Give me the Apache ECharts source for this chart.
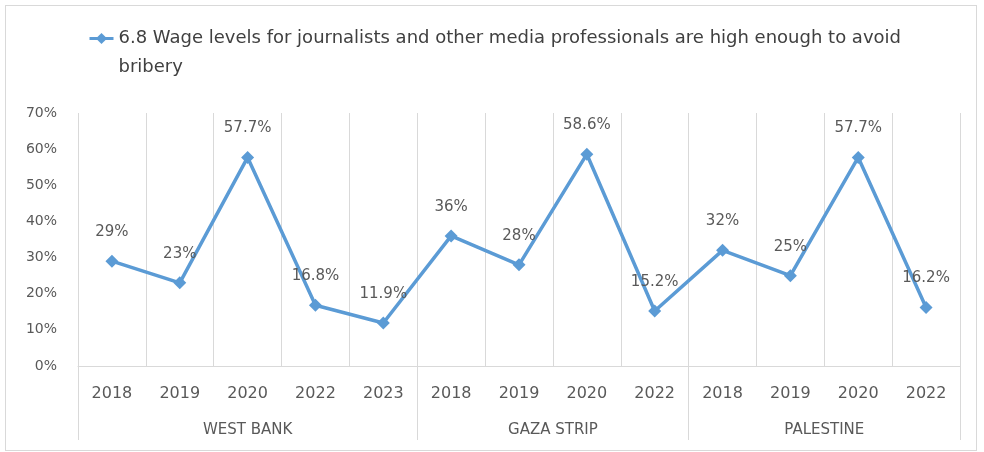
<!DOCTYPE html>
<html>
<head>
<meta charset="utf-8">
<script src="https://cdn.jsdelivr.net/npm/echarts@6/dist/echarts.min.js"></script>
<style>
  html, body { margin: 0; padding: 0; background: #fff; }
  #chart { position: absolute; left: 0; top: 0; width: 984px; height: 452px; }
  #frame { position: absolute; left: 5px; top: 5px; width: 970px; height: 444px; border: 1px solid #d9d9d9; pointer-events: none; }
</style>
</head>
<body>
<div id="chart"></div>
<div id="frame"></div>
<script>
const seriesName = '6.8 Wage levels for journalists and other media professionals are high enough to avoid bribery';
const groups = ['WEST BANK', 'GAZA STRIP', 'PALESTINE'];
const groupSizes = [5, 4, 4];
const years = ['2018', '2019', '2020', '2022', '2023', '2018', '2019', '2020', '2022', '2018', '2019', '2020', '2022'];
const values = [29, 23, 57.7, 16.8, 11.9, 36, 28, 58.6, 15.2, 32, 25, 57.7, 16.2];
const yTicks = [0, 10, 20, 30, 40, 50, 60, 70];

// group boundaries and centres derived from group sizes
const bounds = [0];
groupSizes.forEach(s => bounds.push(bounds[bounds.length - 1] + s));
const centres = groups.map((g, i) => (bounds[i] + bounds[i + 1]) / 2);

const FONT = 'DejaVu Sans';
const chart = echarts.init(document.getElementById('chart'), null, { renderer: 'canvas' });
chart.setOption({
  animation: false,
  backgroundColor: '#ffffff',
  grid: { left: 78, right: 24, top: 113, bottom: 86, containLabel: false },
  legend: {
    show: true,
    left: 88,
    top: -5,
    padding: 0,
    itemWidth: 24,
    itemHeight: 14,
    data: [seriesName],
    lineStyle: { width: 3 },
    // leading blank line keeps the marker level with the first text line
    formatter: n => '\n' + n,
    textStyle: {
      fontFamily: FONT, fontSize: 18, color: '#404040',
      width: 800, overflow: 'break', lineHeight: 29
    }
  },
  xAxis: [
    {
      type: 'category',
      data: years,
      position: 'bottom',
      boundaryGap: true,
      axisLine: { show: true, lineStyle: { color: '#d9d9d9', width: 1 } },
      axisTick: { show: false },
      splitLine: { show: true, lineStyle: { color: '#d9d9d9', width: 1 } },
      axisLabel: { fontFamily: FONT, fontSize: 16, color: '#595959', margin: 20 }
    },
    {
      type: 'value',
      min: 0,
      max: years.length,
      position: 'bottom',
      axisLine: { show: false },
      splitLine: { show: false },
      axisTick: {
        show: true, customValues: bounds, length: 74,
        lineStyle: { color: '#d9d9d9', width: 1 }
      },
      axisLabel: {
        show: true, customValues: centres, margin: 57,
        fontFamily: FONT, fontSize: 15, color: '#595959',
        formatter: function (v) {
          const i = centres.indexOf(v);
          return i >= 0 ? groups[i] : '';
        }
      }
    }
  ],
  yAxis: {
    type: 'value',
    min: yTicks[0],
    max: yTicks[yTicks.length - 1],
    interval: 10,
    axisLine: { show: false },
    axisTick: { show: false },
    splitLine: { show: false },
    axisLabel: { fontFamily: FONT, fontSize: 14, color: '#595959', margin: 21, formatter: '{value}%' }
  },
  series: [{
    name: seriesName,
    type: 'line',
    xAxisIndex: 0,
    data: values,
    symbol: 'diamond',
    symbolSize: 13,
    lineStyle: { color: '#5B9BD5', width: 3.5 },
    itemStyle: { color: '#5B9BD5' },
    label: {
      show: true, position: 'top', distance: 15,
      fontFamily: FONT, fontSize: 15, color: '#595959',
      formatter: p => p.value + '%'
    }
  }]
});
</script>
</body>
</html>
